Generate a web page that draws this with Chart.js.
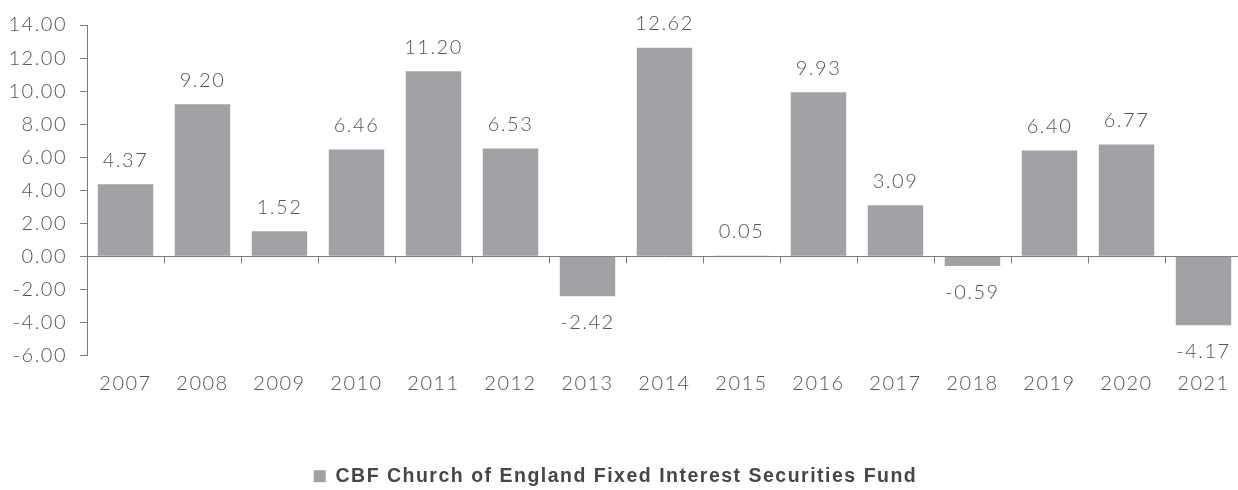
<!DOCTYPE html>
<html lang="en">
<head>
  <meta charset="UTF-8">
  <title>CBF Church of England Fixed Interest Securities Fund</title>
  <script src="https://cdn.jsdelivr.net/npm/chart.js"></script>
  <style>
    html, body { margin: 0; padding: 0; background: #fff; overflow: hidden; }
    /* the last column runs slightly past the right edge, as in the original */
    #wrap { width: 1243px; height: 490px; }
  </style>
</head>
<body>
  <div id="wrap"><canvas id="fundChart"></canvas></div>

  <script>
    // Annual returns (%)
    const years = ['2007', '2008', '2009', '2010', '2011', '2012', '2013', '2014',
                   '2015', '2016', '2017', '2018', '2019', '2020', '2021'];
    const returns = [4.37, 9.20, 1.52, 6.46, 11.20, 6.53, -2.42, 12.62,
                     0.05, 9.93, 3.09, -0.59, 6.40, 6.77, -4.17];
    const yTicks = [-6, -4, -2, 0, 2, 4, 6, 8, 10, 12, 14];
    const seriesName = 'CBF Church of England Fixed Interest Securities Fund';

    const barColor = '#a0a2a6';
    const textColor = '#575353';
    const lineColor = '#7d7a7a';
    const lightFont = 'Lato, "Open Sans", sans-serif';

    // wider letter spacing, closer to the original typeface
    const spacing = {
      id: 'spacing',
      beforeUpdate(chart) { chart.ctx.letterSpacing = '1.5px'; },
      beforeDraw(chart) { chart.ctx.letterSpacing = '1.5px'; }
    };

    // zero line with tick marks between categories
    const zeroAxis = {
      id: 'zeroAxis',
      beforeDatasetsDraw(chart) {
        const { ctx, scales: { x, y }, chartArea } = chart;
        const y0 = Math.round(y.getPixelForValue(0)) + 0.5;
        ctx.save();
        ctx.strokeStyle = lineColor;
        ctx.lineWidth = 1;
        ctx.beginPath();
        ctx.moveTo(chartArea.left, y0);
        ctx.lineTo(chartArea.right, y0);
        const half = (x.getPixelForValue(1) - x.getPixelForValue(0)) / 2;
        for (let i = 0; i < years.length; i++) {
          const px = Math.round(x.getPixelForValue(i) + half) + 0.5;
          ctx.moveTo(px, y0);
          ctx.lineTo(px, y0 + 7);
        }
        ctx.stroke();
        ctx.restore();
      }
    };

    // value labels above / below the bars
    const valueLabels = {
      id: 'valueLabels',
      afterDatasetsDraw(chart) {
        const { ctx } = chart;
        const meta = chart.getDatasetMeta(0);
        ctx.save();
        ctx.font = '300 20px ' + lightFont;
        ctx.fillStyle = textColor;
        ctx.textAlign = 'center';
        ctx.textBaseline = 'middle';
        meta.data.forEach((bar, i) => {
          const v = returns[i];
          const ty = v >= 0 ? bar.y - 24 : bar.y + 26;
          ctx.fillText(v.toFixed(2), bar.x, ty);
        });
        ctx.restore();
      }
    };

    new Chart(document.getElementById('fundChart'), {
      type: 'bar',
      data: {
        labels: years,
        datasets: [{
          label: seriesName,
          data: returns,
          backgroundColor: barColor,
          borderWidth: 0,
          barPercentage: 0.72,
          categoryPercentage: 1.0
        }]
      },
      options: {
        responsive: true,
        maintainAspectRatio: false,
        animation: false,
        layout: { padding: { top: 23, right: 1, left: -11, bottom: -6 } },
        plugins: {
          tooltip: { enabled: false },
          legend: {
            position: 'bottom',
            labels: {
              color: '#4a4545',
              font: { family: '"Liberation Sans", Arial, sans-serif', size: 19.5, weight: 'bold' },
              boxWidth: 12,
              boxHeight: 12,
              padding: 4
            }
          }
        },
        scales: {
          x: {
            grid: { display: false },
            border: { display: false },
            ticks: {
              color: textColor,
              font: { family: lightFont, size: 20, weight: 300 },
              padding: 8,
              maxRotation: 0
            },
            afterFit(scale) { scale.height = 107; }
          },
          y: {
            min: -6,
            max: 14,
            afterBuildTicks(scale) { scale.ticks = yTicks.map(v => ({ value: v })); },
            afterFit(scale) { scale.width = 98; },
            grid: {
              drawOnChartArea: false,
              tickLength: 7,
              color: lineColor
            },
            border: { display: true, color: lineColor },
            ticks: {
              color: textColor,
              font: { family: lightFont, size: 20, weight: 300 },
              padding: 13,
              callback: v => Number(v).toFixed(2)
            }
          }
        }
      },
      plugins: [spacing, zeroAxis, valueLabels]
    });
  </script>
</body>
</html>
